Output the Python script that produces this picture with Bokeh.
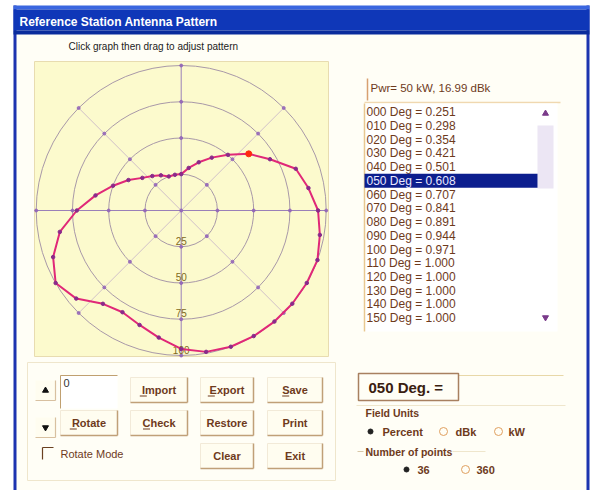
import numpy as np
from bokeh.plotting import figure
from bokeh.models import Range1d
from bokeh.core.properties import value
from bokeh.embed import file_html
from bokeh.resources import INLINE

# ---------------- data ----------------
angles_deg = list(range(0, 360, 10))
field_pct = [25.1, 29.8, 35.4, 42.1, 50.1, 60.8, 70.7, 84.1, 89.1, 94.4,
             97.1, 100.0, 100.0, 100.0, 100.0, 100.0, 100.0, 99.0, 95.5, 89.0,
             84.0, 81.0, 84.0, 94.5, 100.0, 94.0, 85.0, 72.0, 60.0, 50.0,
             42.0, 35.0, 31.0, 28.0, 25.0, 25.0]
selected_index = 5
ring_values = [25, 50, 75, 100]
ring_labels = ["25", "50", "75", "100"]
spoke_angles = [0, 45, 90, 135, 180, 225, 270, 315]
list_degrees = ["000", "010", "020", "030", "040", "050", "060", "070",
                "080", "090", "100", "110", "120", "130", "140", "150"]
list_values = ["0.251", "0.298", "0.354", "0.421", "0.501", "0.608", "0.707", "0.841",
               "0.891", "0.944", "0.971", "1.000", "1.000", "1.000", "1.000", "1.000"]
power_text = "Pwr= 50 kW, 16.99 dBk"

# ---------------- figure ----------------
p = figure(width=598, height=490, x_range=Range1d(0, 598), y_range=Range1d(490, 0),
           output_backend="svg", toolbar_location=None, min_border=0,
           background_fill_color="white", border_fill_color="white",
           outline_line_color=None)
p.xaxis.visible = False
p.yaxis.visible = False
p.grid.visible = False

FONT = value("Liberation Sans")
BROWN = "#6e3a1c"


def box(l, r, t, b, fill, line=None, lw=1):
    p.quad(left=[l], right=[r], top=[t], bottom=[b], fill_color=fill,
           line_color=line, line_width=lw)


def seg(x0, y0, x1, y1, color, lw=1):
    p.segment(x0=[x0], y0=[y0], x1=[x1], y1=[y1], line_color=color, line_width=lw)


def txt(x, y, s, size=11, color=BROWN, bold=False, align="left"):
    p.text(x=[x], y=[y], text=[s], text_font=FONT, text_font_size=f"{size}px",
           text_color=color, text_font_style="bold" if bold else "normal",
           text_align=align, text_baseline="middle")


# window
box(13, 589, 5, 495, "#fffef6", None)
box(13, 16, 5, 495, "#1c34b0", None)
box(586, 589, 5, 495, "#1c34b0", None)
box(13, 589, 5, 9, "#3a66e0", None)
box(13, 589, 9, 30, "#0f37b8", None)
box(13, 589, 30, 34, "#0a2c9c", None)
txt(19, 21, "Reference Station Antenna Pattern", 12, "white", True)
txt(68, 46, "Click graph then drag to adjust pattern", 10, "#222222")

# ---------------- polar plot ----------------
cx, cy, s = 180.7, 210.0, 1.45
box(34, 328, 61, 356, "#fcfacd", "#e8dcb0")

# spokes
for a in spoke_angles:
    th = np.deg2rad(a)
    ext = 101 if a % 90 == 0 else 100
    col = "#9a80b8" if a % 90 == 0 else "#d0c0c8"
    seg(cx, cy, cx + s * ext * np.sin(th), cy - s * ext * np.cos(th), col, 1)

# rings
p.circle(x=[cx] * len(ring_values), y=[cy] * len(ring_values),
         radius=[s * r for r in ring_values], fill_color=None,
         line_color="#a898a8", line_width=1)

# grid dots
gx, gy = [cx], [cy]
for r in ring_values:
    for a in spoke_angles:
        th = np.deg2rad(a)
        gx.append(cx + s * r * np.sin(th))
        gy.append(cy - s * r * np.cos(th))
p.scatter(gx, gy, size=3, color="#9060b8", alpha=0.8)

# ring labels
for r, lab in zip(ring_values, ring_labels):
    txt(cx, cy + s * r - 6, lab, 10, "#806a20", False, "center")

# pattern
th = np.deg2rad(np.array(angles_deg, dtype=float))
v = np.array(field_pct)
px = cx + s * v * np.sin(th)
py = cy - s * v * np.cos(th)
p.line(list(px) + [px[0]], list(py) + [py[0]], line_color="#e02878", line_width=2)
p.scatter(px, py, size=3.5, color="#8a2a8a")
p.scatter([px[selected_index]], [py[selected_index]], size=6, color="#ff2a10")

# ---------------- right panel ----------------
box(364, 560, 78, 102, "#fffef6", None)
seg(367, 78, 367, 100, "#d8a070", 1.5)
seg(364, 102, 560, 102, "#f0d8b0", 1.5)
txt(370, 87, power_text, 11.5, BROWN)

box(364, 557, 103, 331, "white", None)
seg(364, 103, 364, 331, "#e8c890", 1.5)
box(537, 553, 125, 188, "#ece6f4", None)
p.scatter([545], [113], marker="triangle", size=6, color="#7a3a8a")
p.scatter([545], [317], marker="inverted_triangle", size=6, color="#7a3a8a")

row0, pitch = 111.7, 13.73
for i, (d, val) in enumerate(zip(list_degrees, list_values)):
    y = row0 + pitch * i
    if i == selected_index:
        box(364, 537, y - 7, y + 7, "#0c1e8e", None)
        txt(366, y, f"{d} Deg = {val}", 12, "#e8e8ff")
    else:
        txt(366, y, f"{d} Deg = {val}", 12, BROWN)

# "050 Deg. =" box
seg(458, 375, 563, 375, "#e8d8a8", 1)
box(358, 458, 373, 400, "#fffef6", "#a88060", 1.5)
txt(368, 387, list_degrees[selected_index] + "  Deg. =", 15, "#3a2010", True)

# Field units group
seg(356, 405, 565, 405, "#efe6cc", 1)
txt(365, 412, "Field Units", 10.5, BROWN, True)
p.scatter([370], [431], size=5, color="#222222")
txt(382, 431, "Percent", 11, BROWN, True)
p.scatter([443, 498], [431, 431], size=8, fill_color=None, line_color="#e0a060")
txt(455, 431, "dBk", 11, BROWN, True)
txt(508, 431, "kW", 11, BROWN, True)

seg(357, 451, 363, 451, "#d8c8a8", 1)
seg(452, 451, 485, 451, "#efe6cc", 1)
txt(365, 451, "Number of points", 10.5, BROWN, True)
p.scatter([406], [469], size=5, color="#222222")
txt(417, 469, "36", 11, BROWN, True)
p.scatter([465], [469], size=8, fill_color=None, line_color="#e0a060")
txt(476, 469, "360", 11, BROWN, True)

# ---------------- bottom-left panel ----------------
box(27, 335, 362, 480, None, "#efe6cc")


def button(l, r, t, b, label, underline=False):
    box(l, r, t, b, "#fffdf0", None)
    seg(l, t, r, t, "#f2ead8", 1)
    seg(l, t, l, b, "#f2ead8", 1)
    seg(l, b, r, b, "#c0a078", 1.5)
    seg(r, t, r, b, "#c0a078", 1.5)
    cxb = (l + r) / 2
    txt(cxb, (t + b) / 2, label, 11, "#6e3a1c", True, "center")
    if underline:
        w = len(label) * 6.4
        x0 = cxb - w / 2
        seg(x0, (t + b) / 2 + 6, x0 + 7, (t + b) / 2 + 6, "#6e3a1c", 1)


button(130, 187, 377, 402, "Import", True)
button(200, 253, 377, 402, "Export", True)
button(267, 322, 377, 402, "Save", True)
button(60, 117, 410, 435, "Rotate", True)
button(130, 187, 410, 435, "Check", True)
button(200, 253, 410, 435, "Restore")
button(267, 322, 410, 435, "Print")
button(200, 253, 443, 468, "Clear")
button(267, 322, 443, 468, "Exit")

# spin buttons
for t, b, mk in [(380, 400, "triangle"), (417, 437, "inverted_triangle")]:
    box(35, 55, t, b, "#fffdf0", None)
    seg(35, b, 55, b, "#d8c0a0", 1.2)
    seg(55, t, 55, b, "#d8c0a0", 1.2)
    p.scatter([45], [(t + b) / 2], marker=mk, size=6, color="#111111")

# text box
box(60, 117, 375, 408, "white", None)
seg(60, 375, 117, 375, "#c0a070", 1)
seg(60, 375, 60, 408, "#c0a070", 1)
txt(63, 382, "0", 11, "#333333")

# checkbox
seg(42, 447, 53, 447, "#6a4020", 1.2)
seg(42, 447, 42, 459, "#6a4020", 1.2)
txt(60, 453, "Rotate Mode", 11, BROWN)

open("out.html", "w").write(file_html(p, INLINE))
